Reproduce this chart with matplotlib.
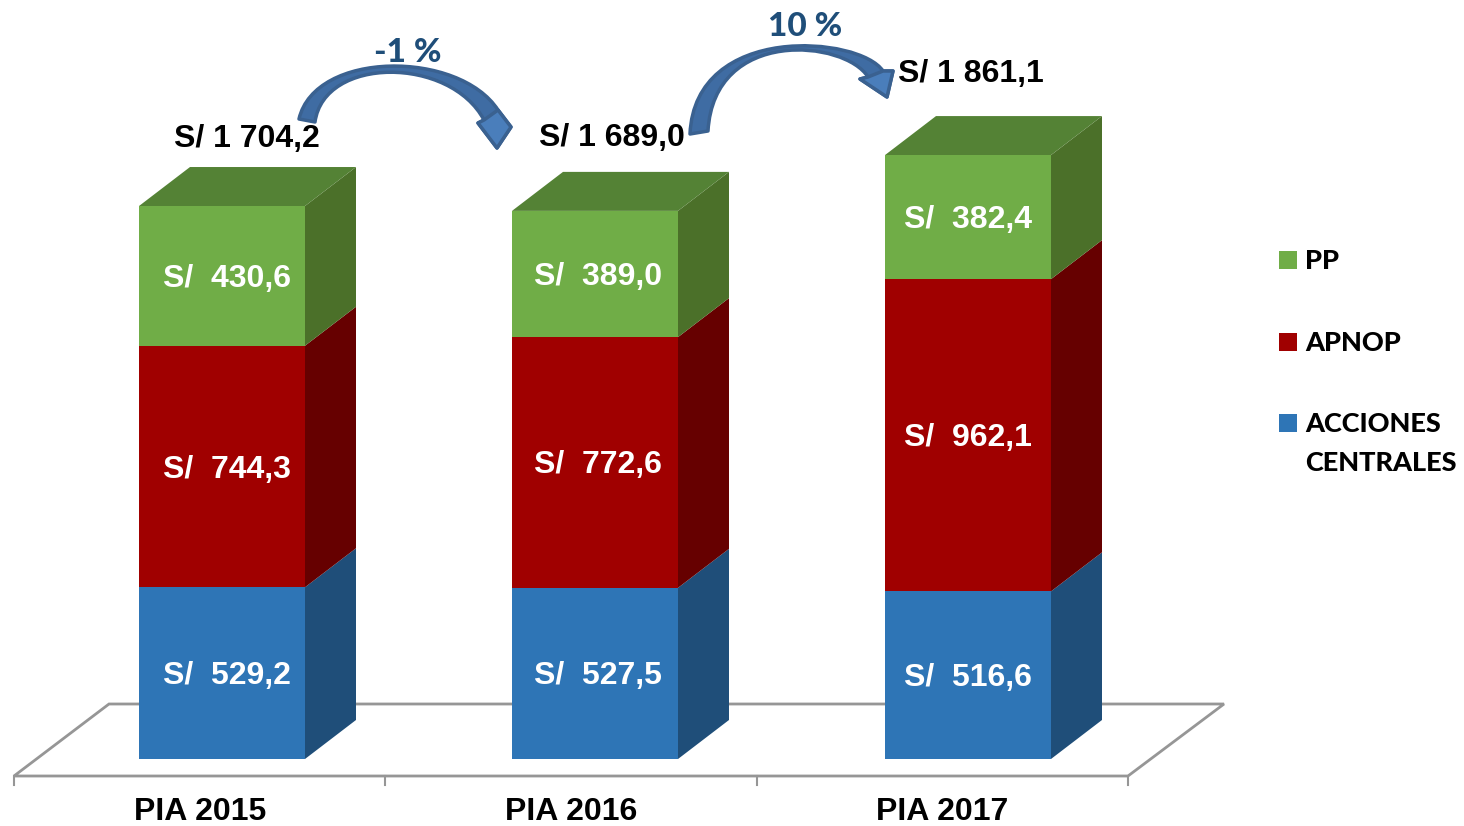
"""
Stacked pseudo-3D bars: PIA 2015-2017
"""

import matplotlib

matplotlib.use("Agg")
import matplotlib.pyplot as plt
from matplotlib.patches import PathPatch, Polygon, Rectangle
from matplotlib.path import Path
from matplotlib.transforms import Affine2D

W, H = 1464, 826

years = ["PIA 2015", "PIA 2016", "PIA 2017"]
acciones = [529.2, 527.5, 516.6]
apnop = [744.3, 772.6, 962.1]
pp = [430.6, 389.0, 382.4]
totales = ["S/ 1 704,2", "S/ 1 689,0", "S/ 1 861,1"]
variacion = ["-1 %", "10 %"]
legend_names = ["PP", "APNOP", "ACCIONES\nCENTRALES"]

ARIAL = "Liberation Sans"
CALIBRI = "Lato"

# (front, side) colours per stack
BLUE = ("#2E75B6", "#1F4E79")
RED = ("#A00000", "#660000")
GREEN = ("#70AD47", "#4B7029")
TOP = "#548235"

# scale of the plot: 373 px per bar step, 0.3245 px per unit
PX_X, PX_Y = 373.0, 0.3245
BAR_W = 166 / PX_X
DX, DY = 51 / PX_X, 39 / PX_Y

fig = plt.figure(figsize=(W / 100, H / 100), dpi=100)
ax = fig.add_axes([0, 0, 1, 1])
ax.set_xlim(-222 / PX_X, (W - 222) / PX_X)
ax.set_ylim((759 - H) / PX_Y, 759 / PX_Y)
ax.axis("off")

# pixel coordinates (top-left origin) for floor, arrows, legend
px = Affine2D().scale(1, -1).translate(0, H)

# floor and axis
GREY = "#969696"
ax.add_patch(
    Polygon(
        [(14, 776), (109, 704), (1224, 704), (1128, 776)],
        closed=True,
        fill=False,
        ec=GREY,
        lw=2,
        transform=px,
        zorder=1,
    )
)
for tick in [14, 385, 757, 1128]:
    ax.plot([tick, tick], [776, 785], color=GREY, lw=1.5, transform=px, zorder=1)

# bars
label_shift = [5, 3, 0]
bottom = [0.0, 0.0, 0.0]
for values, (front, side) in zip([acciones, apnop, pp], [BLUE, RED, GREEN]):
    ax.bar(range(3), values, BAR_W, bottom=bottom, color=front, lw=0, zorder=3)
    for i, v in enumerate(values):
        right = i + BAR_W / 2
        y0, y1 = bottom[i], bottom[i] + v
        ax.add_patch(
            Polygon(
                [(right, y0), (right + DX, y0 + DY), (right + DX, y1 + DY), (right, y1)],
                closed=True,
                fc=side,
                lw=0,
                zorder=2,
            )
        )
        ax.text(
            i + label_shift[i] / PX_X,
            (y0 + y1) / 2 - 3 / PX_Y,
            f"S/  {v:.1f}".replace(".", ","),
            color="white",
            family=ARIAL,
            weight="bold",
            fontsize=23,
            ha="center",
            va="center",
            zorder=4,
        )
        bottom[i] = y1

for i, total in enumerate(bottom):
    left, right = i - BAR_W / 2, i + BAR_W / 2
    ax.add_patch(
        Polygon(
            [
                (left, total),
                (right, total),
                (right + DX, total + DY),
                (left + DX, total + DY),
            ],
            closed=True,
            fc=TOP,
            lw=0,
            zorder=2,
        )
    )

# category labels and totals
for name, x in zip(years, [200, 571, 942]):
    ax.text(x, 812, name, family=ARIAL, weight="bold", fontsize=23, ha="center", va="center", transform=px)
for label, (x, y) in zip(totales, [(247, 139), (612, 138), (971, 74)]):
    ax.text(x, y, label, family=ARIAL, weight="bold", fontsize=23, ha="center", va="center", transform=px)


def curved_arrow(start_out, start_in, c_out, c_in, neck_out, neck_in, wing_a, tip, wing_b):
    """Block arrow: outer bezier out, head, inner bezier back."""
    verts = [start_out, c_out[0], c_out[1], neck_out, wing_a, tip, wing_b, neck_in, c_in[0], c_in[1], start_in, start_out]
    codes = [Path.MOVETO, Path.CURVE4, Path.CURVE4, Path.CURVE4, Path.LINETO, Path.LINETO, Path.LINETO, Path.LINETO,
             Path.CURVE4, Path.CURVE4, Path.CURVE4, Path.CLOSEPOLY]
    ax.add_patch(PathPatch(Path(verts, codes), fc="#3F6CA3", ec="#3A6190", lw=2.5, joinstyle="round", transform=px, zorder=5))
    # brighter head
    ax.add_patch(Polygon([neck_out, wing_a, tip, wing_b, neck_in], closed=True, fc="#4A7EBB", ec="#3A6190", lw=2.5,
                         joinstyle="round", transform=px, zorder=6))


curved_arrow(
    (299, 119), (315, 122),
    ((315, 50), (459, 50)), ((450, 56), (324, 56)),
    (498, 110), (484, 120),
    (511, 127), (497, 148), (478, 123),
)
curved_arrow(
    (690, 134), (708, 131),
    ((695, 22), (860, 36)), ((845, 40), (714, 27)),
    (883, 71), (868, 77),
    (893, 71), (887, 97), (860, 79),
)

ax.text(408, 52, variacion[0], color="#1F4E79", family=CALIBRI, weight=900, fontsize=24, ha="center", va="center", transform=px)
ax.text(805, 27, variacion[1], color="#1F4E79", family=CALIBRI, weight=900, fontsize=24, ha="center", va="center", transform=px)

# legend
for name, color, y in zip(legend_names, [GREEN[0], RED[0], BLUE[0]], [260, 342, 423]):
    ax.add_patch(Rectangle((1279, y - 9), 18, 18, fc=color, lw=0, transform=px))
    lines = name.split("\n")
    for k, line in enumerate(lines):
        ax.text(1305, y + 1 + 39 * k, line, family=CALIBRI, weight=900, fontsize=19.5, ha="left", va="center", transform=px)

fig.savefig("out.png", dpi=100)
